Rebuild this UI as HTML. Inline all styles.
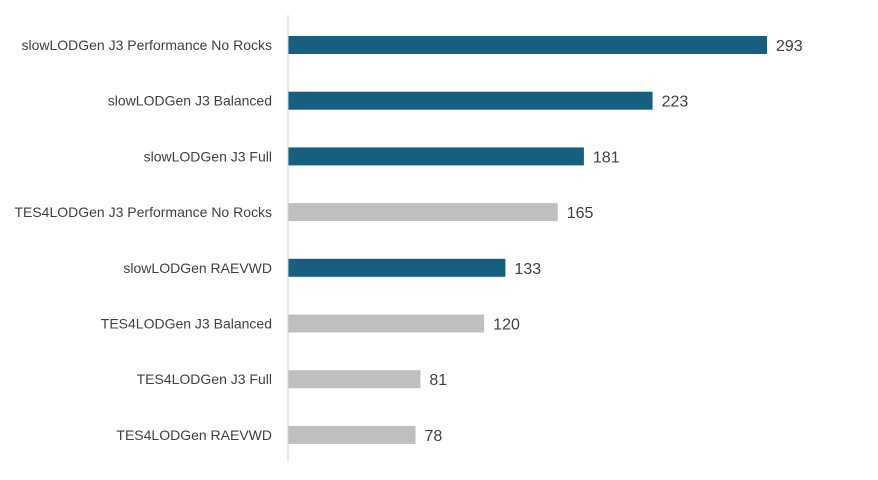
<!DOCTYPE html>
<html><head><meta charset="utf-8"><style>
html,body{margin:0;padding:0;background:#fff;}
svg{display:block;font-family:"Liberation Sans",sans-serif;}
</style></head><body>
<svg id="chart" width="878" height="480"></svg>
<script>
const categories=["slowLODGen J3 Performance No Rocks","slowLODGen J3 Balanced","slowLODGen J3 Full","TES4LODGen J3 Performance No Rocks","slowLODGen RAEVWD","TES4LODGen J3 Balanced","TES4LODGen J3 Full","TES4LODGen RAEVWD"];
const values=[293,223,181,165,133,120,81,78];
const groups=["slow","slow","slow","tes4","slow","tes4","tes4","tes4"];
const NS="http://www.w3.org/2000/svg";
const svg=document.getElementById('chart');
const x0=288, scale=(767-288)/293;
const xPos=v=>x0+v*scale;
const yPos=i=>45+i*55.7;
const barH=18;
function mk(t,a){const e=document.createElementNS(NS,t);for(const k in a)e.setAttribute(k,a[k]);svg.appendChild(e);return e;}
categories.forEach((c,i)=>{
  const y=yPos(i);
  const r=mk('rect',{x:x0,y:y-barH/2,width:xPos(values[i])-x0,height:barH,fill:groups[i]==="slow"?"#175f81":"#bfbfbf"});
  
  
  const l=mk('text',{x:272,y:y+5,'text-anchor':'end','font-size':'14',fill:'#404040'});
  l.textContent=c;
  
  
  const v=mk('text',{x:xPos(values[i])+9,y:y+6,'font-size':'16',fill:'#404040'});
  v.textContent=values[i];
  
  
});
const ax=mk('line',{x1:x0,y1:15,x2:x0,y2:462,stroke:'#d0d0d0','stroke-width':1});


</script>
</body></html>
